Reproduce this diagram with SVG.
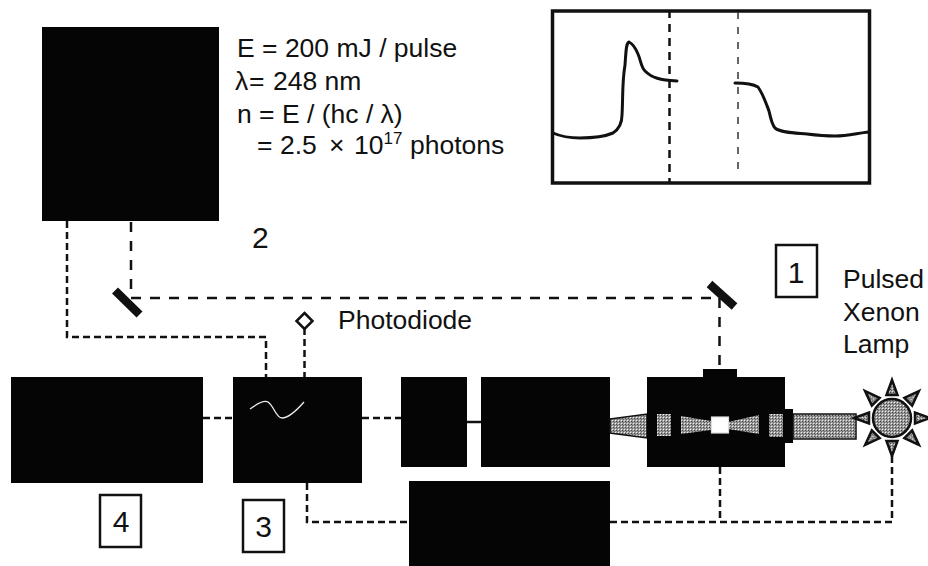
<svg xmlns="http://www.w3.org/2000/svg" xmlns:xlink="http://www.w3.org/1999/xlink" width="928" height="566" viewBox="0 0 928 566">
<style>
text{font-family:"Liberation Sans",Arial,sans-serif;font-size:26.500px;fill:#111}
.box{fill:#050505}
.dash{fill:none;stroke:#111;stroke-width:2.500;stroke-dasharray:10 9}
.fine{fill:none;stroke:#111;stroke-width:2.500;stroke-dasharray:7 4}
.num{fill:#fff;stroke:#111;stroke-width:2.500}
.gray{fill:url(#st)}
.trace{fill:none;stroke:#111;stroke-width:3;stroke-linecap:round;stroke-linejoin:round}
.big{font-size:30px}
</style>
<defs>
<pattern id="st" width="3" height="3" patternUnits="userSpaceOnUse">
<rect width="3" height="3" fill="#9c9c9c"/><rect width="1" height="1" fill="#eee"/><rect x="1" y="1" width="1" height="1" fill="#444"/><rect x="2" y="2" width="1" height="1" fill="#666"/>
</pattern>
<polygon id="ray" points="0,-38 -5.500,-23 5.500,-23" fill="url(#st)" stroke="#111" stroke-width="2.500" stroke-linejoin="miter"/>
</defs>
<g id="connectors">
<path class="fine" d="M67 221V337H266V377"/>
<path class="dash" d="M131 222V296"/>
<path class="dash" d="M131 298H720"/>
<path class="dash" d="M719.500 298V369"/>
<path class="fine" d="M304.500 328V377"/>
<path class="fine" d="M203 418H233"/>
<path class="fine" d="M362 418H401"/>
<path d="M467 422H481" fill="none" stroke="#111" stroke-width="2.500"/>
<path class="fine" d="M307 483V522H409"/>
<path class="fine" d="M610 522H892V456"/>
<path class="fine" d="M720 467V522"/>
</g>
<g id="laser"><rect class="box" x="42" y="27" width="177" height="194"/></g>
<g id="energy-text">
<text x="237" y="57">E = 200 mJ / pulse</text>
<text y="90"><tspan x="235">λ</tspan><tspan x="249">=</tspan><tspan x="273">248 nm</tspan></text>
<text x="237" y="123">n = E / (hc / λ)</text>
<text y="154"><tspan x="257">=</tspan><tspan x="280">2.5</tspan><tspan x="329">×</tspan><tspan x="354">10</tspan><tspan font-size="17" dy="-10">17</tspan><tspan x="410" dy="10">photons</tspan></text>
</g>
<g id="scope">
<rect x="552.500" y="11" width="317" height="172" fill="#fff" stroke="#111" stroke-width="3.500"/>
<path d="M669.500 10V183" fill="none" stroke="#111" stroke-width="2.500" stroke-dasharray="8 6"/>
<path d="M738 12V175" fill="none" stroke="#333" stroke-width="1.500" stroke-dasharray="7 8"/>
<path class="trace" d="M553 133C562 137 570 138 580 138C592 138 606 136 613 133C619 129 622 122 622 115C623 100 622 82 625 65C626 52 626 43 629 42C633 44 636 49 638 54C641 61 641 67 645 71C652 78 660 80 677 81"/>
<path class="trace" d="M735 83C745 83 753 84 758 87C763 94 766 103 769 111C771 120 772 125 775 128C781 133 795 133 807 134C815 135 825 136 835 136C848 136 858 133 869 132"/>
</g>
<g id="mirror-left"><line x1="115" y1="290.500" x2="139.500" y2="314.500" stroke="#111" stroke-width="8.500"/></g>
<g id="mirror-right"><line x1="709.500" y1="284" x2="734.500" y2="306.500" stroke="#111" stroke-width="8.500"/></g>
<g id="label-2"><text class="big" x="252" y="248">2</text></g>
<g id="label-1"><rect class="num" x="776" y="245" width="41" height="52"/><text class="big" x="796" y="283" text-anchor="middle">1</text></g>
<g id="lamp-label"><text x="843" y="288">Pulsed</text><text x="843" y="321">Xenon</text><text x="843" y="353">Lamp</text></g>
<g id="photodiode"><polygon points="304.500,313 312.500,321 304.500,329 296.500,321" fill="#fff" stroke="#111" stroke-width="2.500"/><text x="338" y="329">Photodiode</text></g>
<g id="box4"><rect class="box" x="11" y="377" width="192" height="106"/></g>
<g id="box3"><rect class="box" x="233" y="377" width="129" height="106"/><path d="M250 409C258 403 264 400 268 402C274 406 276 418 282 418C289 418 297 410 304 402" fill="none" stroke="#eee" stroke-width="1.300"/></g>
<g id="label-4"><rect class="num" x="100" y="495" width="41" height="52"/><text class="big" x="121" y="532" text-anchor="middle">4</text></g>
<g id="label-3"><rect class="num" x="243" y="500" width="41" height="52"/><text class="big" x="263.500" y="537" text-anchor="middle">3</text></g>
<g id="box-a"><rect class="box" x="401" y="377" width="66" height="90"/></g>
<g id="box-b"><rect class="box" x="481" y="377" width="129" height="90"/></g>
<g id="box-c"><rect class="box" x="409" y="481" width="201" height="85"/></g>
<g id="cone"><polygon class="gray" points="610,419 647,414 647,438 610,433" stroke="#111" stroke-width="1.500"/></g>
<g id="chamber">
<rect class="box" x="703" y="369" width="34" height="9"/>
<rect class="box" x="647" y="377" width="138" height="90"/>
<rect class="box" x="785" y="409" width="8" height="34"/>
<rect class="gray" x="657" y="414" width="14" height="22"/>
<rect class="gray" x="769" y="414" width="14" height="23"/>
<polygon class="gray" points="681,416 711,421 711,430 681,434"/>
<polygon class="gray" points="728,422 759,415 759,434 728,429"/>
<rect x="711.500" y="417" width="17" height="16" fill="#fff" stroke="#ddd" stroke-width="1.200"/>
</g>
<g id="lamp">
<rect class="gray" x="793" y="414" width="63" height="25" stroke="#111" stroke-width="1.500"/>
<circle class="gray" cx="892" cy="418" r="19" stroke="#111" stroke-width="2.500"/>
<use xlink:href="#ray" transform="translate(892 418)"/>
<use xlink:href="#ray" transform="translate(892 418) rotate(45)"/>
<use xlink:href="#ray" transform="translate(892 418) rotate(90)"/>
<use xlink:href="#ray" transform="translate(892 418) rotate(135)"/>
<use xlink:href="#ray" transform="translate(892 418) rotate(180)"/>
<use xlink:href="#ray" transform="translate(892 418) rotate(225)"/>
<use xlink:href="#ray" transform="translate(892 418) rotate(270)"/>
<use xlink:href="#ray" transform="translate(892 418) rotate(315)"/>
</g>
</svg>
